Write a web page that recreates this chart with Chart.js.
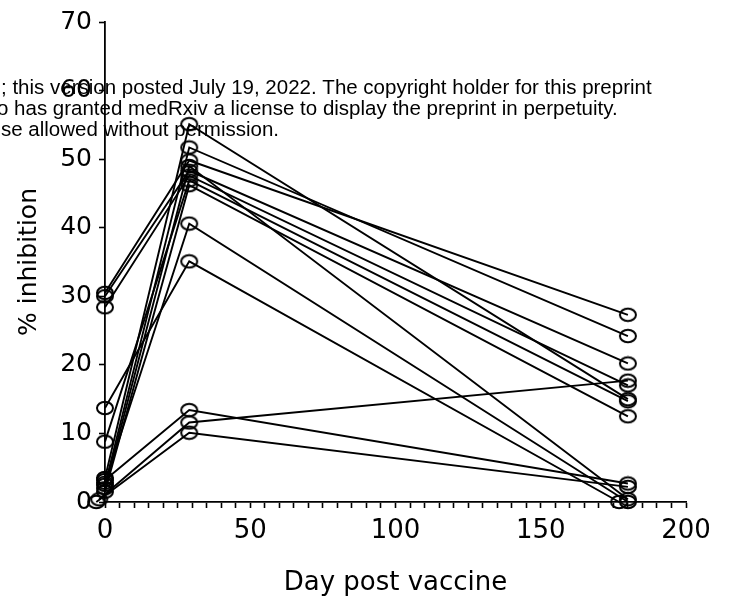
<!DOCTYPE html>
<html>
<head>
<meta charset="utf-8">
<script src="https://cdn.jsdelivr.net/npm/chart.js@4.4.0/dist/chart.umd.min.js"></script>
<style>
  html, body { margin: 0; padding: 0; background: #fff; }
  canvas { display: block; }
</style>
</head>
<body>
<canvas id="chart" width="737" height="612"></canvas>
<script>
// sample day for each subject: baseline, ~1 month, ~6 months
const baselineDays = [0, 0, 0, 0, 0, 0, 0, 0, 0, 0, 0, -2, -3];
const peakDays     = [29, 29, 29, 29, 29, 29, 29, 29, 29, 29, 29, 29, 29];
const lateDays     = [180, 180, 180, 180, 180, 180, 180, 180, 180, 177, 180, 180, 180];

// % inhibition for each subject at the three visits
const baseline = [3.5, 2.5, 30.5, 2.0, 30.0, 28.4, 8.8, 1.5, 2.8, 13.7, 3.2, 0.4, 0];
const peak     = [55.1, 51.7, 49.8, 49.0, 48.3, 47.6, 46.9, 46.2, 40.6, 35.1, 13.4, 11.6, 10.1];
const late     = [15.0, 24.2, 27.3, 0.4, 20.2, 17.0, 14.7, 12.5, 0, 0, 2.7, 17.7, 2.2];

const xTicks = [0, 50, 100, 150, 200];
const yTicks = [0, 10, 20, 30, 40, 50, 60, 70];

// medRxiv banner text that runs across the figure
const watermark = [
  '; this version posted July 19, 2022. The copyright holder for this preprint',
  'o has granted medRxiv a license to display the preprint in perpetuity.',
  'se allowed without permission.'
];

// open ellipse marker, like the Prism circles
function ellipseMarker() {
  const c = document.createElement('canvas');
  c.width = 20;
  c.height = 16;
  const g = c.getContext('2d');
  g.lineWidth = 2;
  g.strokeStyle = '#000';
  g.beginPath();
  g.ellipse(10, 8, 8, 6.2, 0, 0, Math.PI * 2);
  g.stroke();
  return c;
}
const marker = ellipseMarker();

const datasets = baseline.map((b, i) => ({
  data: [
    { x: baselineDays[i], y: b },
    { x: peakDays[i], y: peak[i] },
    { x: lateDays[i], y: late[i] }
  ],
  borderColor: '#000',
  borderWidth: 1.9,
  pointStyle: marker,
  pointRadius: 8,
  clip: false,
  tension: 0
}));

const bannerPlugin = {
  id: 'banner',
  afterDraw(chart) {
    const ctx = chart.ctx;
    ctx.save();
    ctx.font = '20.5px "Liberation Sans", Arial, sans-serif';
    ctx.fillStyle = '#000';
    ctx.textBaseline = 'alphabetic';
    ctx.fillText(watermark[0], 1, 94);
    ctx.fillText(watermark[1], -3, 115);
    ctx.fillText(watermark[2], 1, 136);
    ctx.restore();
  }
};

new Chart(document.getElementById('chart').getContext('2d'), {
  type: 'line',
  data: { datasets: datasets },
  options: {
    responsive: false,
    animation: false,
    devicePixelRatio: 1,
    layout: { padding: { top: 15, right: 51, left: 0, bottom: 0 } },
    plugins: {
      legend: { display: false },
      tooltip: { enabled: false }
    },
    scales: {
      x: {
        type: 'linear',
        min: 0,
        max: 200,
        afterFit: s => { s.height = 110; },
        border: { color: '#000', width: 1.8 },
        grid: { drawOnChartArea: false, tickLength: 6, tickWidth: 1.6, tickColor: '#000' },
        ticks: {
          stepSize: 5,
          autoSkip: false,
          maxRotation: 0,
          padding: 8,
          color: '#000',
          font: { family: 'DejaVu Sans', size: 26 },
          callback: v => xTicks.includes(v) ? String(v) : ''
        },
        title: {
          display: true,
          text: 'Day post vaccine',
          color: '#000',
          font: { family: 'DejaVu Sans', size: 26 },
          padding: { top: 0, bottom: 13 }
        }
      },
      y: {
        min: 0,
        max: 70,
        afterFit: s => { s.width = 105; },
        afterBuildTicks: s => { s.ticks = yTicks.map(v => ({ value: v })); },
        border: { color: '#000', width: 1.8 },
        grid: { drawOnChartArea: false, tickLength: 6, tickWidth: 1.6, tickColor: '#000' },
        ticks: {
          padding: 7,
          color: '#000',
          font: { family: 'DejaVu Sans', size: 25 }
        },
        title: {
          display: true,
          text: '% inhibition',
          color: '#000',
          font: { family: 'DejaVu Sans', size: 25 },
          padding: { top: 14, bottom: 0 }
        }
      }
    }
  },
  plugins: [bannerPlugin]
});
</script>
</body>
</html>
